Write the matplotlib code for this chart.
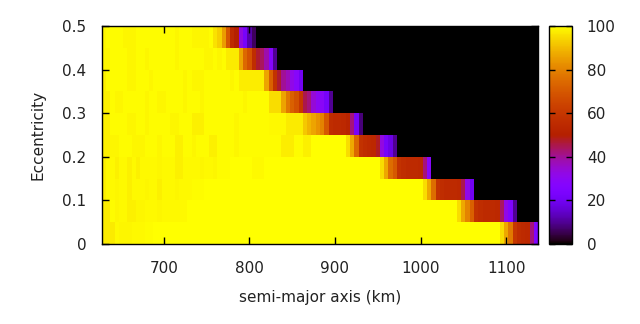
import numpy as np
import matplotlib
matplotlib.use('Agg')
import matplotlib.pyplot as plt

# column centres (km) and row centres (eccentricity)
semi_major_km = list(range(630, 1136, 5))
eccentricity = [0.025, 0.075, 0.125, 0.175, 0.225, 0.275, 0.325, 0.375, 0.425, 0.475]

# each row as runs of (number of columns, value), bottom row first
row_e000 = [(3, 97), (1, 99), (3, 98.5), (3, 99), (2, 99.5), (81, 100),
            (1, 95), (1, 87), (1, 78), (1, 60), (1, 56), (1, 55), (1, 54), (1, 42), (1, 25)]
row_e005 = [(2, 97), (1, 99.5), (1, 98.5), (2, 99), (2, 98), (2, 98.5), (3, 99), (1, 98.5), (6, 99),
            (63, 100),
            (1, 95), (1, 87), (1, 80), (1, 72), (1, 58), (1, 56), (1, 55), (1, 55), (1, 55), (1, 54),
            (1, 44), (1, 32), (1, 25), (1, 10), (5, 0)]
row_e010 = [(1, 98), (2, 99), (1, 98.5), (2, 99), (1, 98), (3, 99), (1, 98.5), (2, 99), (1, 98),
            (3, 99), (1, 98.5), (3, 99), (3, 99.5), (51, 100),
            (1, 95), (1, 87), (1, 75), (1, 58), (1, 56), (1, 55), (1, 55), (1, 55), (1, 54), (1, 45),
            (1, 32), (1, 20), (15, 0)]
row_e015 = [(1, 98), (2, 99), (1, 98), (2, 99), (1, 98), (1, 99), (1, 98), (4, 99), (1, 98.5),
            (3, 99), (2, 98), (4, 99), (1, 98.5), (2, 99), (1, 98.5), (3, 99.5), (5, 100), (3, 99),
            (27, 100),
            (1, 95), (1, 87), (1, 75), (1, 70), (1, 58), (1, 56), (1, 55), (1, 55), (1, 55), (1, 54),
            (1, 42), (1, 28), (25, 0)]
row_e020 = [(2, 98), (2, 98.5), (3, 99.5), (3, 98.5), (3, 99.5), (1, 98.5), (3, 99.5), (2, 98),
            (2, 99.5), (1, 98.5), (3, 99.5), (2, 98), (4, 99.5), (1, 98.5), (10, 99.5), (3, 97.5),
            (2, 99.5), (2, 98), (8, 100),
            (1, 95), (1, 87), (1, 74), (1, 58), (1, 56), (1, 55), (1, 54), (1, 48), (1, 33), (1, 22),
            (1, 18), (1, 10), (33, 0)]
row_e025 = [(2, 98), (4, 99.5), (2, 98.5), (2, 99.5), (1, 98.5), (5, 99.5), (2, 98.5), (3, 99.5),
            (3, 98), (7, 99.5), (1, 98.5), (7, 99.5), (4, 99), (4, 97),
            (1, 92), (1, 89), (1, 86), (1, 83), (1, 80), (1, 70), (1, 56), (1, 55), (1, 55), (1, 54),
            (1, 52), (1, 42), (1, 22), (1, 8), (41, 0)]
row_e030 = [(2, 98), (1, 99.5), (2, 98.5), (5, 99.5), (1, 98.5), (2, 99.5), (2, 98.5), (4, 99.5),
            (1, 98.5), (3, 99.5), (1, 98.5), (9, 99.5), (1, 98.5), (5, 99.5), (3, 95),
            (1, 86), (1, 78), (1, 72), (1, 68), (1, 60), (1, 45), (1, 42), (1, 34), (1, 30), (1, 29),
            (1, 22), (1, 10), (48, 0)]
row_e035 = [(1, 98), (5, 99.5), (2, 98.5), (3, 99.5), (1, 98.5), (7, 99.5), (1, 98.5), (1, 99.5),
            (3, 98.5), (6, 99.5), (1, 98.5), (1, 99.5), (6, 97.5),
            (1, 86), (1, 72), (1, 58), (1, 47), (1, 40), (1, 37), (1, 32), (1, 28), (1, 20), (55, 0)]
row_e040 = [(2, 98.5), (4, 99.5), (2, 98.5), (2, 99.5), (1, 98.5), (6, 99.5), (1, 98.5), (6, 99.5),
            (2, 98.5), (1, 99.5), (1, 98.5), (1, 99.5), (3, 97),
            (1, 86), (1, 74), (1, 68), (1, 56), (1, 47), (1, 44), (1, 38), (1, 27), (1, 10), (61, 0)]
row_e045 = [(1, 98.5), (4, 99.5), (3, 98.5), (9, 99.5), (1, 98.5), (3, 99.5), (4, 98.5), (1, 99.5),
            (1, 96), (1, 93), (1, 85), (1, 70), (1, 55), (1, 50), (1, 33), (1, 22), (1, 12), (1, 6),
            (66, 0)]

rows = [row_e000, row_e005, row_e010, row_e015, row_e020,
        row_e025, row_e030, row_e035, row_e040, row_e045]

ytick_vals = [0, 0.1, 0.2, 0.3, 0.4, 0.5]
ytick_labels = ['0', '0.1', '0.2', '0.3', '0.4', '0.5']
xtick_vals = [700, 800, 900, 1000, 1100]
cb_ticks = [0, 20, 40, 60, 80, 100]


def expand(runs):
    counts = [c for c, v in runs]
    values = [v for c, v in runs]
    return np.repeat(values, counts)


grid = np.array([expand(r) for r in rows], dtype=float)

plt.rcParams['font.family'] = 'DejaVu Sans'
plt.rcParams['font.size'] = 11

fig = plt.figure(figsize=(6.4, 3.24), dpi=100)
ax = fig.add_axes([0.159, 0.247, 0.682, 0.673])

mesh = ax.pcolormesh(semi_major_km, eccentricity, grid, cmap='gnuplot',
                     vmin=0, vmax=100, shading='nearest')

ax.set_xlim(627.5, 1137.5)
ax.set_ylim(0, 0.5)
ax.set_xticks(xtick_vals)
ax.set_yticks(ytick_vals)
ax.set_yticklabels(ytick_labels)
ax.tick_params(direction='in', length=5, width=1, top=True, right=True,
               colors='black', labelcolor='#222222')
ax.tick_params(axis='x', pad=12)
ax.tick_params(axis='y', pad=11)
for s in ax.spines.values():
    s.set_linewidth(1)

ax.set_xlabel('semi-major axis (km)', labelpad=10, color='#222222')
ax.set_ylabel('Eccentricity', labelpad=12, color='#222222')

cax = fig.add_axes([0.858, 0.247, 0.035, 0.673])
cb = fig.colorbar(mesh, cax=cax, ticks=cb_ticks)
cb.outline.set_linewidth(1)
cax.tick_params(direction='in', length=4, width=1, left=True, right=True,
                labelcolor='#222222', pad=11)

fig.savefig('out.png', dpi=100)
